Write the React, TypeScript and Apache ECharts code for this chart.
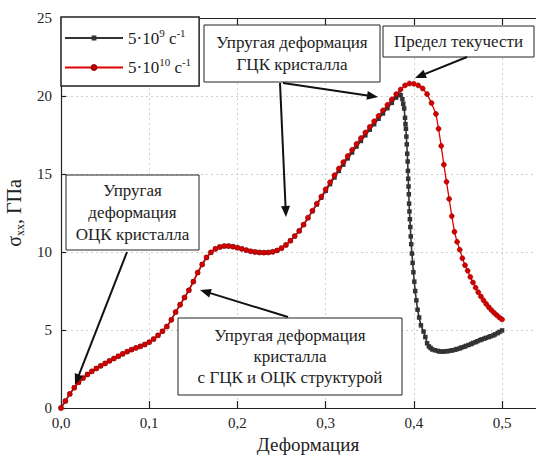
import React, { useEffect, useRef } from "react";
import * as echarts from "echarts";

// Strain rate 5·10^9 s^-1 (black squares)
const strainLow = [
  0.0, 0.005, 0.01, 0.015, 0.02, 0.025, 0.03, 0.035, 0.04, 0.045, 0.05, 0.055, 0.06, 0.065, 0.07, 0.075,
  0.08, 0.085, 0.09, 0.095, 0.1, 0.105, 0.11, 0.115, 0.12, 0.125, 0.13, 0.135, 0.14, 0.145, 0.15, 0.155,
  0.16, 0.165, 0.17, 0.175, 0.18, 0.185, 0.19, 0.195, 0.2, 0.205, 0.21, 0.215, 0.22, 0.225, 0.23, 0.235,
  0.24, 0.245, 0.25, 0.255, 0.26, 0.265, 0.27, 0.275, 0.28, 0.285, 0.29, 0.295, 0.3, 0.305, 0.31, 0.315,
  0.32, 0.325, 0.33, 0.335, 0.34, 0.345, 0.35, 0.355, 0.36, 0.365, 0.37, 0.375, 0.38, 0.383,
  0.385, 0.387, 0.388, 0.389, 0.39, 0.3905, 0.391, 0.3915, 0.392, 0.3925, 0.393, 0.3933, 0.3936, 0.394,
  0.3943, 0.3946, 0.395, 0.3955, 0.396, 0.3965, 0.397, 0.3978, 0.3986, 0.3995, 0.4005, 0.4015, 0.4028,
  0.4042, 0.406, 0.408, 0.411, 0.413, 0.415, 0.417, 0.419, 0.421, 0.424, 0.427, 0.429, 0.432, 0.434,
  0.437, 0.439, 0.442, 0.444, 0.447, 0.449, 0.452, 0.454, 0.457, 0.459, 0.462, 0.465, 0.467, 0.47,
  0.472, 0.475, 0.477, 0.48, 0.482, 0.485, 0.487, 0.49, 0.492, 0.495, 0.497, 0.5,
];
const stressLow = [
  0.0, 0.45, 0.9, 1.3, 1.65, 1.92, 2.15, 2.35, 2.53, 2.7, 2.86, 3.02, 3.17, 3.32, 3.47, 3.61,
  3.74, 3.85, 3.95, 4.07, 4.22, 4.42, 4.66, 4.92, 5.22, 5.65, 6.15, 6.62, 7.08, 7.55, 8.1, 8.68,
  9.2, 9.65, 9.98, 10.2, 10.32, 10.38, 10.38, 10.34, 10.27, 10.2, 10.12, 10.05, 10.0, 9.97, 9.96, 9.97,
  10.01, 10.1, 10.25, 10.45, 10.72, 11.02, 11.35, 11.75, 12.18, 12.62, 13.05, 13.48, 13.92, 14.35, 14.78, 15.2,
  15.6, 16.0, 16.38, 16.76, 17.12, 17.48, 17.84, 18.19, 18.54, 18.88, 19.22, 19.56, 19.9, 20.1,
  20.05, 19.8, 19.5, 19.2, 18.6, 18.2, 17.9, 17.4, 16.9, 16.3, 15.8, 15.2, 14.7, 14.2,
  13.7, 13.1, 12.6, 12.1, 11.6, 11.0, 10.5, 9.9, 9.3, 8.7, 8.1, 7.5, 6.9,
  6.3, 5.8, 5.3, 4.9, 4.55, 4.15, 3.95, 3.85, 3.75, 3.7, 3.66, 3.62, 3.62, 3.62,
  3.64, 3.65, 3.68, 3.7, 3.74, 3.78, 3.82, 3.88, 3.92, 3.98, 4.04, 4.1, 4.17, 4.22,
  4.28, 4.35, 4.4, 4.45, 4.5, 4.55, 4.6, 4.65, 4.72, 4.8, 4.88, 4.97, 5.05, 5.12, 5.2, 5.28,
];

// Strain rate 5·10^10 s^-1 (red circles)
const strainHigh = [
  0.0, 0.005, 0.01, 0.015, 0.02, 0.025, 0.03, 0.035, 0.04, 0.045, 0.05, 0.055, 0.06, 0.065, 0.07, 0.075,
  0.08, 0.085, 0.09, 0.095, 0.1, 0.105, 0.11, 0.115, 0.12, 0.125, 0.13, 0.135, 0.14, 0.145, 0.15, 0.155,
  0.16, 0.165, 0.17, 0.175, 0.18, 0.185, 0.19, 0.195, 0.2, 0.205, 0.21, 0.215, 0.22, 0.225, 0.23, 0.235,
  0.24, 0.245, 0.25, 0.255, 0.26, 0.265, 0.27, 0.275, 0.28, 0.285, 0.29, 0.295, 0.3, 0.305, 0.31, 0.315,
  0.32, 0.325, 0.33, 0.335, 0.34, 0.345, 0.35, 0.355, 0.36, 0.365, 0.37, 0.375, 0.38, 0.385,
  0.39, 0.395, 0.4, 0.405, 0.41, 0.415, 0.42, 0.425, 0.428, 0.431, 0.434, 0.437, 0.44, 0.443, 0.446,
  0.449, 0.452, 0.455, 0.458, 0.461, 0.464, 0.467, 0.47, 0.473, 0.476, 0.479, 0.482, 0.485, 0.488,
  0.491, 0.494, 0.497, 0.5,
];
const stressHigh = [
  0.0, 0.45, 0.9, 1.3, 1.65, 1.92, 2.15, 2.35, 2.53, 2.7, 2.86, 3.02, 3.17, 3.32, 3.47, 3.61,
  3.74, 3.85, 3.95, 4.07, 4.22, 4.42, 4.66, 4.92, 5.22, 5.65, 6.15, 6.62, 7.08, 7.55, 8.1, 8.68,
  9.2, 9.65, 9.98, 10.2, 10.32, 10.38, 10.38, 10.34, 10.27, 10.2, 10.12, 10.05, 10.0, 9.97, 9.96, 9.97,
  10.01, 10.1, 10.25, 10.45, 10.72, 11.02, 11.35, 11.75, 12.2, 12.65, 13.1, 13.55, 14.02, 14.47, 14.92, 15.35,
  15.76, 16.16, 16.55, 16.93, 17.3, 17.66, 18.02, 18.38, 18.73, 19.08, 19.43, 19.78, 20.12, 20.42,
  20.68, 20.8, 20.78, 20.68, 20.48, 20.12, 19.55, 18.85, 17.9, 16.8, 15.6, 14.5, 13.4, 12.3, 11.3,
  10.65, 10.15, 9.6, 9.15, 8.8, 8.4, 8.05, 7.72, 7.42, 7.15, 6.9, 6.67, 6.46, 6.27,
  6.1, 5.95, 5.8, 5.68,
];

const yTicks = [0, 5, 10, 15, 20, 25];
const xTicks = [0, 0.1, 0.2, 0.3, 0.4, 0.5];

const FONT = "Times New Roman, Liberation Serif, DejaVu Serif, serif";

function arrow(x1: number, y1: number, x2: number, y2: number) {
  const dx = x2 - x1;
  const dy = y2 - y1;
  const L = Math.hypot(dx, dy);
  const ux = dx / L;
  const uy = dy / L;
  const hl = 11;
  const hw = 4.5;
  const bx = x2 - ux * hl;
  const by = y2 - uy * hl;
  const px = -uy;
  const py = ux;
  return [
    {
      type: "line",
      z: 120,
      shape: { x1, y1, x2: bx + ux * 2, y2: by + uy * 2 },
      style: { stroke: "#111", lineWidth: 2 },
    },
    {
      type: "polygon",
      z: 120,
      shape: {
        points: [
          [x2, y2],
          [bx + px * hw, by + py * hw],
          [bx - px * hw, by - py * hw],
        ],
      },
      style: { fill: "#111" },
    },
  ];
}

const notes = [
  { x: 204, y: 25, w: 176, h: 57, lh: 22, text: "Упругая деформация\nГЦК кристалла" },
  { x: 383, y: 26, w: 151, h: 31, lh: 22, text: "Предел текучести" },
  { x: 66, y: 175, w: 133, h: 75, lh: 22, text: "Упругая\nдеформация\nОЦК кристалла" },
  { x: 178, y: 318, w: 224, h: 77, lh: 21, text: "Упругая деформация\nкристалла\nс ГЦК и ОЦК структурой" },
];

export default function App() {
  const ref = useRef<HTMLDivElement>(null);
  useEffect(() => {
    if (!ref.current) return;
    const chart = echarts.init(ref.current, undefined, { renderer: "svg" });

    const graphics: any[] = [];
    notes.forEach((n) => {
      graphics.push({
        type: "rect",
        z: 110,
        shape: { x: n.x, y: n.y, width: n.w, height: n.h },
        style: { fill: "#fff", stroke: "#222", lineWidth: 1 },
      });
      graphics.push({
        type: "text",
        z: 111,
        x: n.x + n.w / 2,
        y: n.y + n.h / 2,
        style: {
          text: n.text,
          fill: "#222",
          font: `17px ${FONT}`,
          align: "center",
          verticalAlign: "middle",
          lineHeight: n.lh,
        },
      });
    });
    graphics.push(...arrow(127, 252, 75, 385));
    graphics.push(...arrow(288, 317, 200, 290));
    graphics.push(...arrow(283, 83, 378, 97));
    graphics.push(...arrow(280, 83, 286, 217));
    graphics.push(...arrow(467, 57, 415, 78));

    const richLegend = {
      t: { fontSize: 17, fontFamily: FONT, color: "#222", lineHeight: 22 },
      sup: { fontSize: 11, fontFamily: FONT, color: "#222", lineHeight: 12, verticalAlign: "top" },
    };

    const option: any = {
      animation: false,
      backgroundColor: "#fff",
      textStyle: { fontFamily: FONT },
      grid: { left: 61, top: 18, width: 494, height: 390, containLabel: false, outerBoundsMode: "none" },
      legend: {
        left: 61,
        top: 17,
        orient: "vertical",
        itemWidth: 58,
        itemHeight: 6,
        itemGap: 10,
        padding: [10, 8, 10, 3],
        borderColor: "#222",
        borderWidth: 1.5,
        borderRadius: 0,
        backgroundColor: "#fff",
        z: 105,
        data: ["low", "high"],
        formatter: (name: string) =>
          name === "low" ? "{t|5·10}{sup|9}{t| с}{sup|-1}" : "{t|5·10}{sup|10}{t| с}{sup|-1}",
        textStyle: { rich: richLegend, fontFamily: FONT, fontSize: 17, color: "#222" },
      },
      xAxis: [
        {
          type: "value",
          min: 0,
          max: 0.56,
          interval: 0.1,
          name: "Деформация",
          nameLocation: "middle",
          nameGap: 25,
          nameTextStyle: { fontSize: 19, fontFamily: FONT, color: "#222" },
          axisLine: { show: true, onZero: false, lineStyle: { color: "#222", width: 1.2 } },
          axisTick: { show: true, inside: true, length: 7, lineStyle: { color: "#222", width: 1.2 } },
          axisLabel: {
            color: "#222",
            fontSize: 15,
            fontFamily: FONT,
            margin: 7,
            showMaxLabel: false,
            formatter: (v: number) =>
              xTicks.some((t) => Math.abs(t - v) < 1e-6) ? v.toFixed(1).replace(".", ",") : "",
          },
          splitLine: { show: true, lineStyle: { color: "#cfcfcf", type: [2, 3], width: 1 } },
        },
        {
          type: "value",
          position: "top",
          min: 0,
          max: 0.56,
          interval: 0.1,
          axisLine: { show: true, onZero: false, lineStyle: { color: "#222", width: 1.2 } },
          axisTick: { show: true, inside: true, length: 7, lineStyle: { color: "#222", width: 1.2 } },
          axisLabel: { show: false },
          splitLine: { show: false },
        },
      ],
      yAxis: {
        type: "value",
        min: 0,
        max: 25,
        interval: 5,
        name: "{s|σ}{sub|xx}{s|, ГПа}",
        nameLocation: "middle",
        nameGap: 30,
        nameTextStyle: {
          fontFamily: FONT,
          rich: {
            s: { fontSize: 20, fontFamily: FONT, color: "#222", lineHeight: 24 },
            sub: { fontSize: 12, fontFamily: FONT, color: "#222", lineHeight: 12, verticalAlign: "bottom" },
          },
        },
        axisLine: { show: true, onZero: false, lineStyle: { color: "#222", width: 1.2 } },
        axisTick: { show: true, inside: true, length: 5, lineStyle: { color: "#222", width: 1.2 } },
        axisLabel: {
          color: "#222",
          fontSize: 15,
          fontFamily: FONT,
          margin: 9,
          formatter: (v: number) => (yTicks.includes(v) ? String(v) : ""),
        },
        splitLine: { show: true, lineStyle: { color: "#cfcfcf", type: [2, 3], width: 1 } },
      },
      series: [
        {
          name: "low",
          type: "line",
          data: strainLow.map((x, i) => [x, stressLow[i]]),
          symbol: "rect",
          symbolSize: 4.5,
          showAllSymbol: true,
          lineStyle: { color: "#333", width: 1.6 },
          itemStyle: { color: "#333" },
          z: 3,
        },
        {
          name: "high",
          type: "line",
          data: strainHigh.map((x, i) => [x, stressHigh[i]]),
          symbol: "circle",
          symbolSize: 5,
          showAllSymbol: true,
          lineStyle: { color: "#e00000", width: 1.3 },
          itemStyle: { color: "#d40000", borderColor: "#9a0000", borderWidth: 0.6 },
          z: 4,
        },
      ],
      graphic: graphics,
    };
    chart.setOption(option);
    return () => chart.dispose();
  }, []);

  return (
    <div
      ref={ref}
      style={{ position: "absolute", left: 0, top: 0, width: 536, height: 458, overflow: "hidden" }}
    />
  );
}
